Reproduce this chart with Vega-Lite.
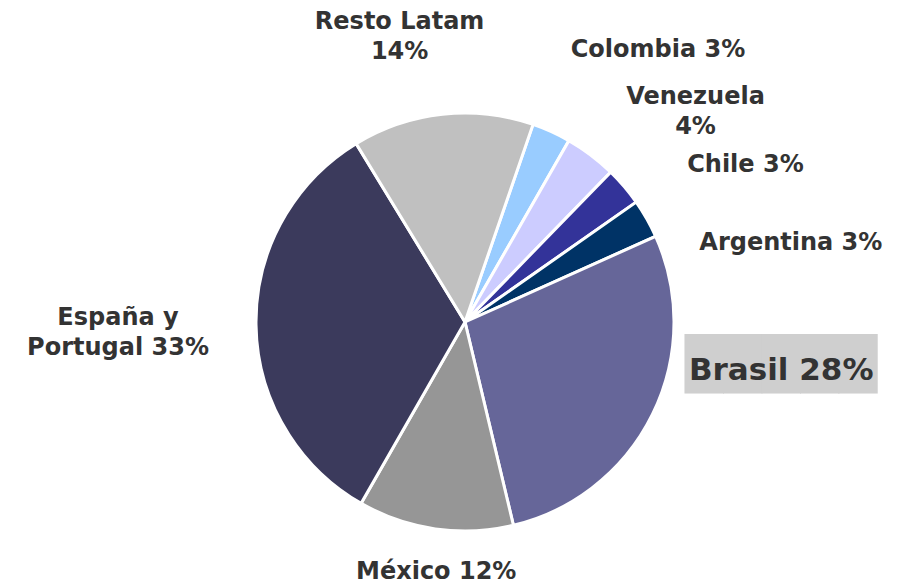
{
  "$schema": "https://vega.github.io/schema/vega-lite/v6.json",
  "width": 870,
  "height": 528,
  "autosize": {"type": "none"},
  "padding": {"left": 30, "top": 58, "right": 0, "bottom": 0},
  "background": "white",
  "config": {"view": {"stroke": null}},
  "data": {
    "values": [
      {"country": "Colombia", "share": 3, "label": "Colombia 3%"},
      {"country": "Venezuela", "share": 4, "label": "Venezuela\n4%"},
      {"country": "Chile", "share": 3, "label": "Chile 3%"},
      {"country": "Argentina", "share": 3, "label": "Argentina 3%"},
      {"country": "Brasil", "share": 28, "label": "Brasil 28%"},
      {"country": "México", "share": 12, "label": "México 12%"},
      {"country": "España y Portugal", "share": 33, "label": "España y\nPortugal 33%"},
      {"country": "Resto Latam", "share": 14, "label": "Resto Latam\n14%"}
    ]
  },
  "transform": [{"window": [{"op": "row_number", "as": "rank"}]}],
  "encoding": {
    "theta": {"field": "share", "type": "quantitative", "stack": true, "scale": {"range": [0.3316, 6.6148]}},
    "order": {"field": "rank", "type": "quantitative"}
  },
  "layer": [
    {
      "mark": {"type": "arc", "outerRadius": 209, "stroke": "white", "strokeWidth": 3},
      "encoding": {
        "color": {
          "field": "country",
          "type": "nominal",
          "scale": {
            "domain": ["Colombia", "Venezuela", "Chile", "Argentina", "Brasil", "México", "España y Portugal", "Resto Latam"],
            "range": ["#99CCFF", "#CCCCFF", "#333399", "#003366", "#666699", "#969696", "#3B3A5C", "#C0C0C0"]
          },
          "legend": null
        }
      }
    },
    {
      "mark": {
        "type": "text",
        "text": "█████",
        "font": "DejaVu Sans",
        "fontSize": 50,
        "align": "center",
        "baseline": "middle",
        "radius": 300,
        "dx": 47,
        "dy": -88,
        "fill": "#CFCFCF",
        "opacity": {"expr": "datum.country === 'Brasil' ? 1 : 0"}
      },
      "encoding": {"detail": {"field": "country", "type": "nominal"}}
    },
    {
      "mark": {
        "type": "text",
        "font": "DejaVu Sans",
        "fontWeight": "bold",
        "fontSize": {"expr": "datum.country === 'Brasil' ? 31 : 24"},
        "lineBreak": "\n",
        "lineHeight": 30,
        "align": "center",
        "baseline": "middle",
        "radius": 300,
        "fill": "#333333",
        "dx": {"expr": "datum.country === 'Colombia' ? 69 : datum.country === 'Venezuela' ? 50 : datum.country === 'Chile' ? 52 : datum.country === 'Argentina' ? 65 : datum.country === 'Brasil' ? 47 : datum.country === 'México' ? 14 : datum.country === 'Resto Latam' ? -33 : -47"},
        "dy": {"expr": "datum.country === 'Colombia' ? 1 : datum.country === 'Venezuela' ? 15 : datum.country === 'Chile' ? 37 : datum.country === 'Argentina' ? 69 : datum.country === 'Brasil' ? -83 : datum.country === 'México' ? -47 : datum.country === 'Resto Latam' ? -2 : -8"}
      },
      "encoding": {
        "text": {"field": "label", "type": "nominal"},
        "detail": {"field": "country", "type": "nominal"}
      }
    }
  ]
}
